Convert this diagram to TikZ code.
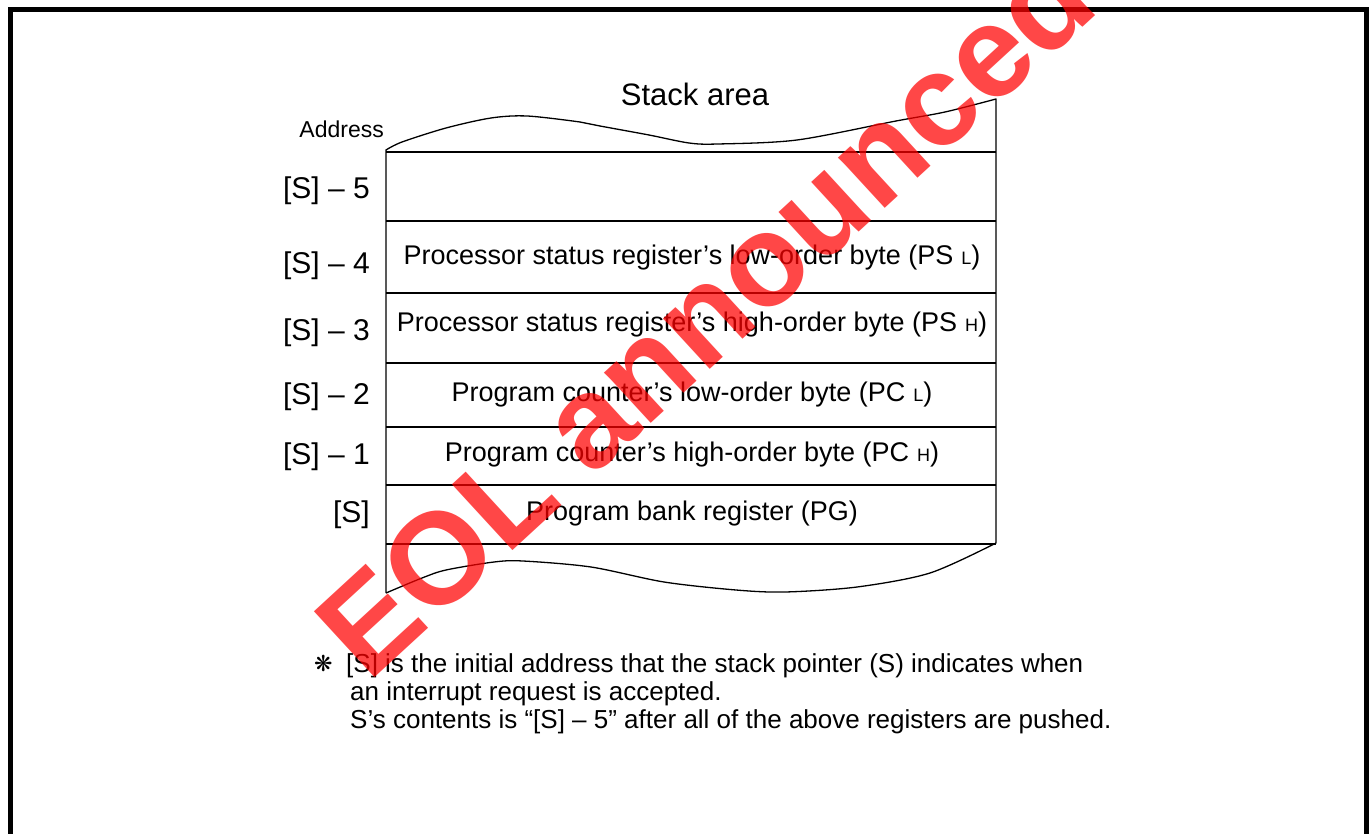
\documentclass[tikz,border=0pt]{standalone}
\usepackage{fontspec}
\setmainfont{Liberation Sans}
\newfontfamily\dingfont{DejaVu Sans}
\usetikzlibrary{positioning}

% small register suffix (L / H)
\newcommand{\regpart}[1]{\hspace{8pt}{\fontsize{18}{20}\selectfont #1}}

\begin{document}
\begin{tikzpicture}[x=1pt,y=-1pt,
    cell/.style={font=\fontsize{27}{32}\selectfont,anchor=center,inner sep=0pt},
    addr/.style={font=\fontsize{30}{36}\selectfont,anchor=east,inner sep=0pt},
    note/.style={font=\fontsize{26}{30}\selectfont,anchor=base west,inner sep=0pt},
    frame/.style={line width=5pt},
    stackline/.style={line width=1.3pt,line join=round},
    watermark/.style={rotate=42.6,anchor=base west,inner sep=0pt}
  ]
    \useasboundingbox (0,0) rectangle (1372,834);

    % Outer frame, open at the bottom
    \draw[frame] (10.8,834) -- (10.8,10) -- (1366,10) -- (1366,834);

    % Stack area outline with torn edges
    \draw[stackline] (386,593) -- (386,150)
      -- plot[smooth] coordinates {(386,150) (402,142) (446,128) (491,118) (527,116) (580,122)
         (600,126) (649,135) (689,143) (718,144) (797,140) (896,121) (945,112) (996,99)}
      -- (996,543)
      -- plot[smooth] coordinates {(996,543) (930,573) (857,587) (785,592) (736,590) (664,582)
         (591,567) (523,561) (494,562) (446,570) (422,578) (386,593)};

    % Row separators
    \foreach \y in {152,221,293,363,427,485,544}
      \draw[stackline] (386,\y) -- (996,\y);

    % Titles
    \node[font=\fontsize{31}{36}\selectfont,inner sep=0pt] (title) at (695,94) {Stack area};
    \node[font=\fontsize{23}{26}\selectfont,anchor=east,inner sep=0pt] (address) at (384,129) {Address};

    % Addresses
    \node[addr] (a5) at (370,191) {[S] – 5};
    \node[addr] (a4) at (370,266) {[S] – 4};
    \node[addr] (a3) at (370,333) {[S] – 3};
    \node[addr] (a2) at (370,397) {[S] – 2};
    \node[addr] (a1) at (370,457) {[S] – 1};
    \node[addr] (a0) at (370,515) {[S]};

    % Stack contents
    \node[cell] (psl) at (692,258) {Processor status register’s low-order byte (PS\regpart{L})};
    \node[cell] (psh) at (692,325) {Processor status register’s high-order byte (PS\regpart{H})};
    \node[cell] (pcl) at (692,395) {Program counter’s low-order byte (PC\regpart{L})};
    \node[cell] (pch) at (692,455) {Program counter’s high-order byte (PC\regpart{H})};
    \node[cell] (pg) at (692,514) {Program bank register (PG)};

    % Note
    \node[anchor=base west,inner sep=0pt,font=\dingfont\fontsize{22}{22}\selectfont] (mark) at (314,671) {❋};
    \node[note] (n1) at (346,672) {[S] is the initial address that the stack pointer (S) indicates when};
    \node[note] (n2) at (350,700) {an interrupt request is accepted.};
    \node[note] (n3) at (350,728) {S’s contents is “[S] – 5” after all of the above registers are pushed.};

    % Watermark
    \node[watermark,text=red,opacity=0.72,font=\fontsize{130}{130}\selectfont\bfseries] (eol) at (368,684) {EOL announced};
\end{tikzpicture}
\end{document}
